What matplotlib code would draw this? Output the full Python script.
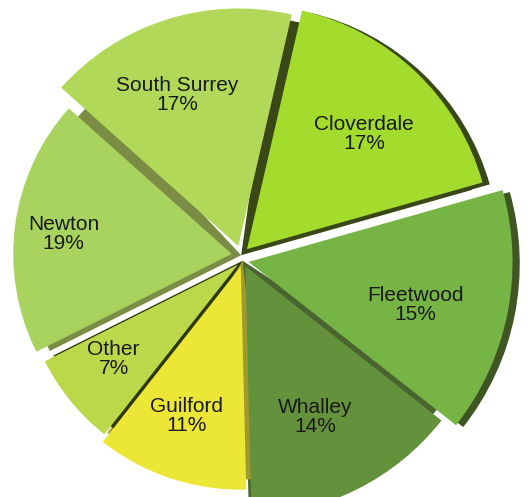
import numpy as np
import matplotlib.pyplot as plt

names = ['Cloverdale', 'Fleetwood', 'Whalley', 'Guilford', 'Other', 'Newton', 'South Surrey']
shares = [17, 15, 14, 11, 7, 19, 17]

faces = ['#a3dc2c', '#76b446', '#64913c', '#ece636', '#bdd74a', '#a8d35e', '#b1d858']
sides = ['#3a4818', '#3e5622', '#4a6430', '#a09a2e', '#2c3810', '#7b8d44', '#5a6e28']
explode = [0.035, 0.025, 0.025, 0.025, 0.025, 0.04, 0.04]
# the picture is a tilted 3d pie, so the rim is not the same distance everywhere
radii = [1.02, 1.1, 1.04, 0.93, 0.9, 0.91, 0.99]
half = [0, 1, 1, 1, 1, 0, 0]          # upper / lower half of the split pie
# side walls that show in the cuts: degrees added at (theta1, theta2)
walls = [(0, 5), (0, 0), (0, 5), (0, 5), (0, 6), (5, 0), (0, 0)]
rim = [1, 1, 0, 0, 0, 0, 0]
lab_turn = [-1, -4, -2, -1, -1, 0, 4]
lab_r = [0.725, 0.75, 0.73, 0.70, 0.68, 0.75, 0.73]

plt.rcParams['font.family'] = ['Liberation Sans', 'DejaVu Sans']

fig = plt.figure(figsize=(5.28, 4.97), dpi=100)
ax = fig.add_axes([0, 0, 1, 1])

kw = dict(startangle=77, counterclock=False, wedgeprops=dict(linewidth=0))
rims, _ = ax.pie(shares, colors=sides, explode=explode, **kw)
cuts, _ = ax.pie(shares, colors=sides, **kw)
wedges, _ = ax.pie(shares, colors=faces, explode=explode, **kw)

split = np.deg2rad(105)
s = 0.012
for i in range(len(shares)):
    sgn = 1 if half[i] == 0 else -1
    dx, dy = sgn * s * np.cos(split), sgn * s * np.sin(split)
    for w in (rims[i], cuts[i], wedges[i]):
        cx, cy = w.center
        w.set_center((cx + dx, cy + dy))
        w.set_radius(radii[i])
    cx, cy = rims[i].center
    rims[i].set_center((cx + 0.03, cy - 0.008))
    rims[i].set_visible(bool(rim[i]))
    cuts[i].set_radius(radii[i] * 0.98)
    cuts[i].set_theta1(cuts[i].theta1 - walls[i][0])
    cuts[i].set_theta2(cuts[i].theta2 + walls[i][1])
    cuts[i].set_visible(walls[i] != (0, 0))

# draw order of the cut walls decides which colour fills each cut
order = [1, 2, 3, 4, 6, 5, 0]
for z, i in enumerate(order):
    cuts[i].set_zorder(1 + z * 0.01)
for w in rims:
    w.set_zorder(0.9)
for w in wedges:
    w.set_zorder(2)

for w, n, v, t, r in zip(wedges, names, shares, lab_turn, lab_r):
    ang = np.deg2rad((w.theta1 + w.theta2) / 2 + t)
    ax.text(r * np.cos(ang), r * np.sin(ang), f'{n}\n{v}%',
            ha='center', va='center', fontsize=15, color='#1a1a1a',
            linespacing=1.0, zorder=3)

ax.set_aspect('auto')
ax.set_xlim(-1.008, 1.192)
ax.set_ylim(-0.996, 1.075)
ax.axis('off')

fig.savefig('out.png', dpi=100)
